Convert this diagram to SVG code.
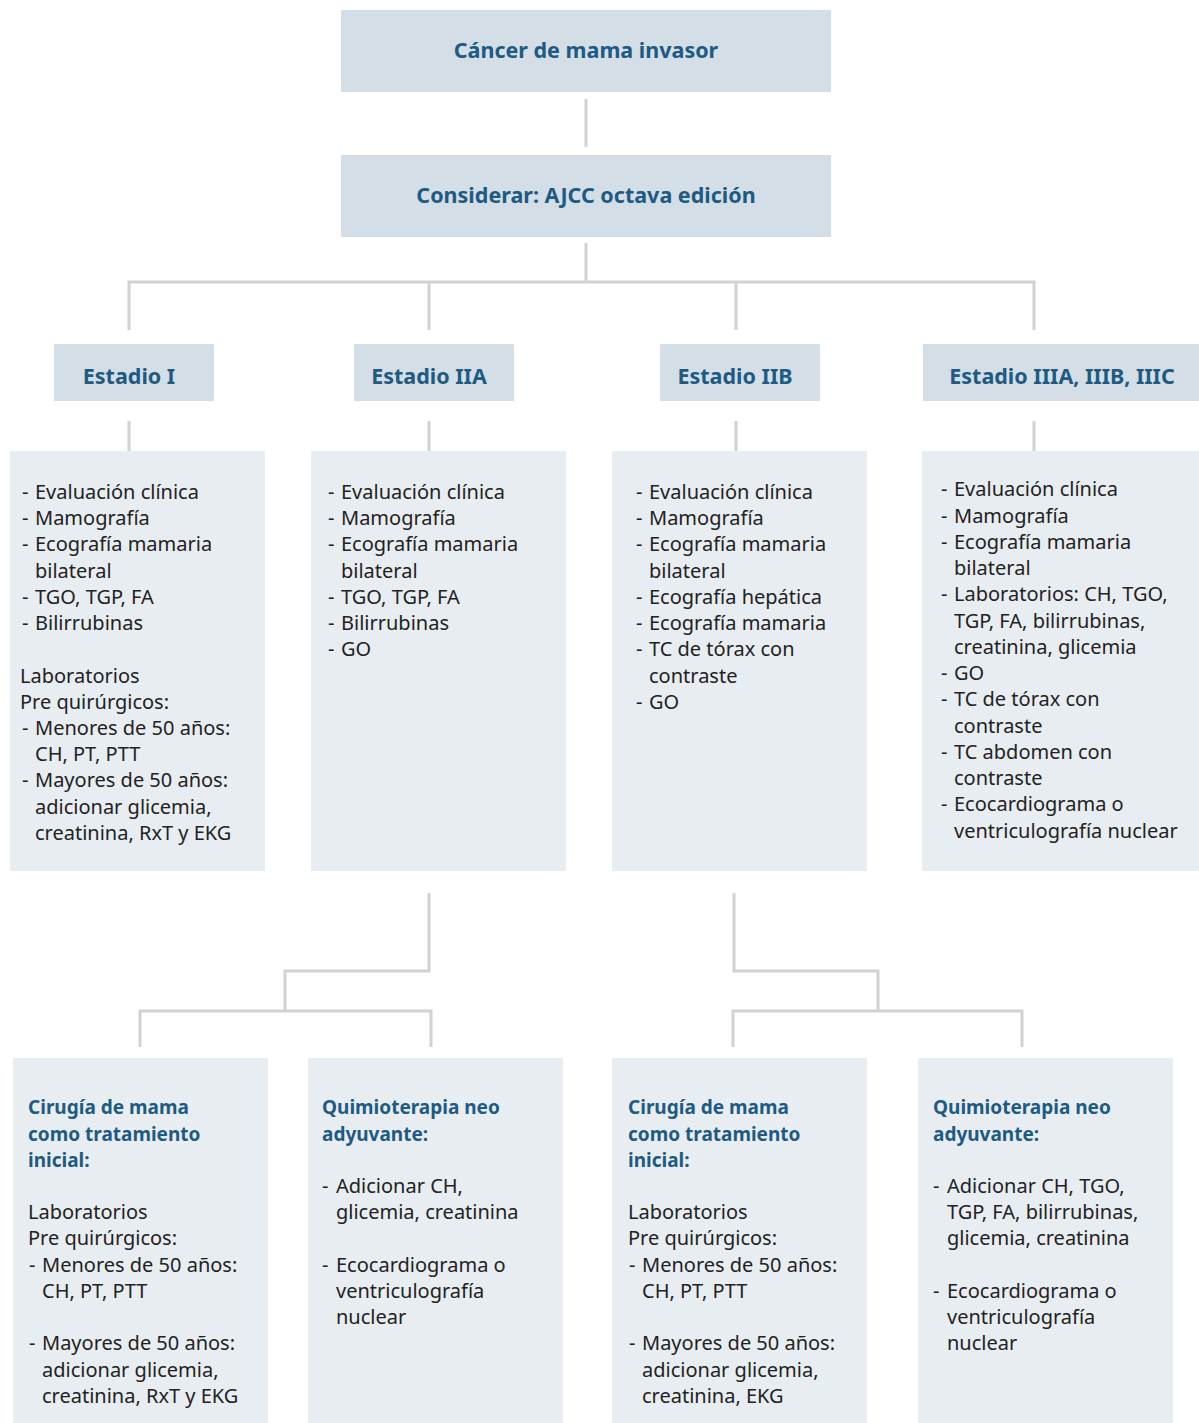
<svg xmlns="http://www.w3.org/2000/svg" width="1199" height="1423" viewBox="0 0 1199 1423">
<style>
.hd{fill:#d3dee7}
.bx{fill:#e8edf1}
.t{font-family:"Noto Sans","Open Sans",sans-serif;font-size:20px;fill:#222}
.h{font-family:"Noto Sans","Open Sans",sans-serif;font-size:21.5px;font-weight:bold;fill:#1e5a82}
.hs{font-family:"Noto Sans","Open Sans",sans-serif;font-size:19px;font-weight:bold;fill:#1e5a82}
.c{fill:none;stroke:#d2d2d2;stroke-width:3}
</style>
<rect width="1199" height="1423" fill="#fff"/>
<g id="connectors">
<path class="c" d="M586 99V147"/>
<path class="c" d="M586 243V282M129 330V282H1034V330M429 282V330M736 282V330"/>
<path class="c" d="M129 421V451M429 421V451M736 421V451M1034 421V451"/>
<path class="c" d="M429 893V971H285V1011M140 1047V1011H431V1047"/>
<path class="c" d="M734 893V971H878V1011M733 1047V1011H1022V1047"/>
</g>
<g id="n-cancer"><rect class="hd" x="341" y="10" width="490" height="82"/><text class="h" x="586" y="58" text-anchor="middle">Cáncer de mama invasor</text></g>
<g id="n-considerar"><rect class="hd" x="341" y="155" width="490" height="82"/><text class="h" x="586" y="203" text-anchor="middle">Considerar: AJCC octava edición</text></g>
<g id="n-e1"><rect class="hd" x="54" y="344" width="160" height="57"/><text class="h" x="129" y="384" text-anchor="middle">Estadio I</text></g>
<g id="n-e2a"><rect class="hd" x="354" y="344" width="160" height="57"/><text class="h" x="429" y="384" text-anchor="middle">Estadio IIA</text></g>
<g id="n-e2b"><rect class="hd" x="660" y="344" width="160" height="57"/><text class="h" x="735" y="384" text-anchor="middle">Estadio IIB</text></g>
<g id="n-e3"><rect class="hd" x="923" y="344" width="276" height="57"/><text class="h" x="1062" y="384" text-anchor="middle">Estadio IIIA, IIIB, IIIC</text></g>

<g id="n-b1"><rect class="bx" x="10" y="451" width="255" height="420"/>
<text class="t">
<tspan x="22" y="499">- </tspan><tspan x="35" y="499">Evaluación clínica</tspan>
<tspan x="22" y="525">- </tspan><tspan x="35" y="525">Mamografía</tspan>
<tspan x="22" y="551">- </tspan><tspan x="35" y="551">Ecografía mamaria</tspan>
<tspan x="35" y="578">bilateral</tspan>
<tspan x="22" y="604">- </tspan><tspan x="35" y="604">TGO, TGP, FA</tspan>
<tspan x="22" y="630">- </tspan><tspan x="35" y="630">Bilirrubinas</tspan>
<tspan x="20" y="683">Laboratorios</tspan>
<tspan x="20" y="709">Pre quirúrgicos:</tspan>
<tspan x="22" y="735">- </tspan><tspan x="35" y="735">Menores de 50 años:</tspan>
<tspan x="35" y="761">CH, PT, PTT</tspan>
<tspan x="22" y="787">- </tspan><tspan x="35" y="787">Mayores de 50 años:</tspan>
<tspan x="35" y="814">adicionar glicemia,</tspan>
<tspan x="35" y="840">creatinina, RxT y EKG</tspan>
</text></g>

<g id="n-b2"><rect class="bx" x="311" y="451" width="255" height="420"/>
<text class="t">
<tspan x="328" y="499">- </tspan><tspan x="341" y="499">Evaluación clínica</tspan>
<tspan x="328" y="525">- </tspan><tspan x="341" y="525">Mamografía</tspan>
<tspan x="328" y="551">- </tspan><tspan x="341" y="551">Ecografía mamaria</tspan>
<tspan x="341" y="578">bilateral</tspan>
<tspan x="328" y="604">- </tspan><tspan x="341" y="604">TGO, TGP, FA</tspan>
<tspan x="328" y="630">- </tspan><tspan x="341" y="630">Bilirrubinas</tspan>
<tspan x="328" y="656">- </tspan><tspan x="341" y="656">GO</tspan>
</text></g>

<g id="n-b3"><rect class="bx" x="612" y="451" width="255" height="420"/>
<text class="t">
<tspan x="636" y="499">- </tspan><tspan x="649" y="499">Evaluación clínica</tspan>
<tspan x="636" y="525">- </tspan><tspan x="649" y="525">Mamografía</tspan>
<tspan x="636" y="551">- </tspan><tspan x="649" y="551">Ecografía mamaria</tspan>
<tspan x="649" y="578">bilateral</tspan>
<tspan x="636" y="604">- </tspan><tspan x="649" y="604">Ecografía hepática</tspan>
<tspan x="636" y="630">- </tspan><tspan x="649" y="630">Ecografía mamaria</tspan>
<tspan x="636" y="656">- </tspan><tspan x="649" y="656">TC de tórax con</tspan>
<tspan x="649" y="683">contraste</tspan>
<tspan x="636" y="709">- </tspan><tspan x="649" y="709">GO</tspan>
</text></g>

<g id="n-b4"><rect class="bx" x="922" y="451" width="277" height="420"/>
<text class="t">
<tspan x="941" y="496">- </tspan><tspan x="954" y="496">Evaluación clínica</tspan>
<tspan x="941" y="523">- </tspan><tspan x="954" y="523">Mamografía</tspan>
<tspan x="941" y="549">- </tspan><tspan x="954" y="549">Ecografía mamaria</tspan>
<tspan x="954" y="575">bilateral</tspan>
<tspan x="941" y="601">- </tspan><tspan x="954" y="601">Laboratorios: CH, TGO,</tspan>
<tspan x="954" y="628">TGP, FA, bilirrubinas,</tspan>
<tspan x="954" y="654">creatinina, glicemia</tspan>
<tspan x="941" y="680">- </tspan><tspan x="954" y="680">GO</tspan>
<tspan x="941" y="706">- </tspan><tspan x="954" y="706">TC de tórax con</tspan>
<tspan x="954" y="733">contraste</tspan>
<tspan x="941" y="759">- </tspan><tspan x="954" y="759">TC abdomen con</tspan>
<tspan x="954" y="785">contraste</tspan>
<tspan x="941" y="811">- </tspan><tspan x="954" y="811">Ecocardiograma o</tspan>
<tspan x="954" y="838">ventriculografía nuclear</tspan>
</text></g>

<g id="n-c1"><rect class="bx" x="13" y="1058" width="255" height="365"/>
<text class="hs"><tspan x="28" y="1114">Cirugía de mama</tspan><tspan x="28" y="1141">como tratamiento</tspan><tspan x="28" y="1167">inicial:</tspan></text>
<text class="t">
<tspan x="28" y="1219">Laboratorios</tspan>
<tspan x="28" y="1245">Pre quirúrgicos:</tspan>
<tspan x="29" y="1272">- </tspan><tspan x="42" y="1272">Menores de 50 años:</tspan>
<tspan x="42" y="1298">CH, PT, PTT</tspan>
<tspan x="29" y="1350">- </tspan><tspan x="42" y="1350">Mayores de 50 años:</tspan>
<tspan x="42" y="1377">adicionar glicemia,</tspan>
<tspan x="42" y="1403">creatinina, RxT y EKG</tspan>
</text></g>

<g id="n-q1"><rect class="bx" x="308" y="1058" width="255" height="365"/>
<text class="hs"><tspan x="322" y="1114">Quimioterapia neo</tspan><tspan x="322" y="1141">adyuvante:</tspan></text>
<text class="t">
<tspan x="322" y="1193">- </tspan><tspan x="336" y="1193">Adicionar CH,</tspan>
<tspan x="336" y="1219">glicemia, creatinina</tspan>
<tspan x="322" y="1272">- </tspan><tspan x="336" y="1272">Ecocardiograma o</tspan>
<tspan x="336" y="1298">ventriculografía</tspan>
<tspan x="336" y="1324">nuclear</tspan>
</text></g>

<g id="n-c2"><rect class="bx" x="612" y="1058" width="255" height="365"/>
<text class="hs"><tspan x="628" y="1114">Cirugía de mama</tspan><tspan x="628" y="1141">como tratamiento</tspan><tspan x="628" y="1167">inicial:</tspan></text>
<text class="t">
<tspan x="628" y="1219">Laboratorios</tspan>
<tspan x="628" y="1245">Pre quirúrgicos:</tspan>
<tspan x="629" y="1272">- </tspan><tspan x="642" y="1272">Menores de 50 años:</tspan>
<tspan x="642" y="1298">CH, PT, PTT</tspan>
<tspan x="629" y="1350">- </tspan><tspan x="642" y="1350">Mayores de 50 años:</tspan>
<tspan x="642" y="1377">adicionar glicemia,</tspan>
<tspan x="642" y="1403">creatinina, EKG</tspan>
</text></g>

<g id="n-q2"><rect class="bx" x="918" y="1058" width="255" height="365"/>
<text class="hs"><tspan x="933" y="1114">Quimioterapia neo</tspan><tspan x="933" y="1141">adyuvante:</tspan></text>
<text class="t">
<tspan x="933" y="1193">- </tspan><tspan x="947" y="1193">Adicionar CH, TGO,</tspan>
<tspan x="947" y="1219">TGP, FA, bilirrubinas,</tspan>
<tspan x="947" y="1245">glicemia, creatinina</tspan>
<tspan x="933" y="1298">- </tspan><tspan x="947" y="1298">Ecocardiograma o</tspan>
<tspan x="947" y="1324">ventriculografía</tspan>
<tspan x="947" y="1350">nuclear</tspan>
</text></g>
</svg>
